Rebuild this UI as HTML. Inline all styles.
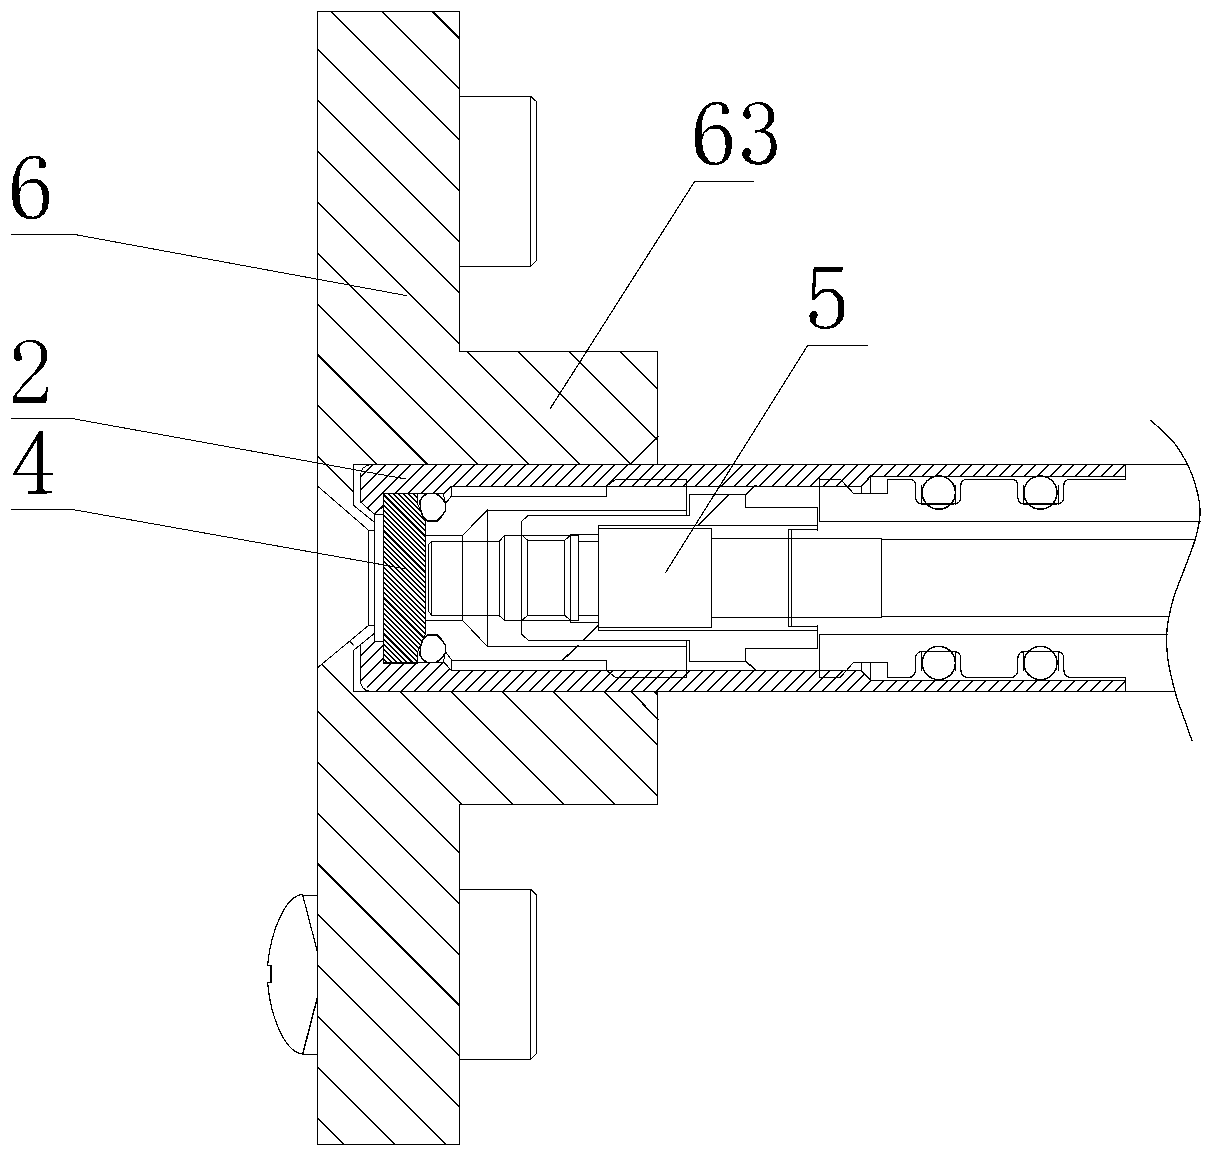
<!DOCTYPE html><html><head><meta charset="utf-8"><style>html,body{margin:0;padding:0;background:#fff;overflow:hidden}svg{display:block}</style></head><body><svg width="1215" height="1158" viewBox="0 0 1215 1158"><defs><clipPath id="cp"><path d="M317.5,11.5 L459.7,11.5 L459.7,351.3 L657.9,351.3 L657.9,464.4 L353.5,464.4 L353.5,516.5 L317.5,486.0Z M317.5,667.8 L353.5,638.7 L353.5,691.3 L657.9,691.3 L657.9,804.1 L459.7,804.1 L459.7,1144.5 L317.5,1144.5Z"/></clipPath><clipPath id="cw"><path d="M361.0,474.0 L370.9,464.4 L1125.4,464.4 L1125.4,476.2 L870.6,476.2 L861.3,486.3 L451.3,486.3 L443.9,493.5 L383.1,493.5 L383.1,506.3 L374.8,514.2 L360.6,501.9Z M361.0,681.6 L370.9,691.2 L1125.4,691.2 L1125.4,680.5 L870.6,680.5 L861.3,670.5 L451.3,670.5 L443.9,662.1 L383.1,662.1 L383.1,641.5 L374.8,641.5 L374.8,632.6 L360.5,644.2 L360.5,680.0Z"/></clipPath><clipPath id="cs"><path d="M383.6,493.6 L417.8,493.6 L417.8,504.4 L425.6,521.5 L425.6,634.1 L417.8,651.2 L417.8,663.4 L383.6,663.4Z"/></clipPath></defs><rect width="1215" height="1158" fill="#fff"/><g fill="none" stroke="#000" stroke-width="1" stroke-linecap="square" shape-rendering="crispEdges"><g clip-path="url(#cp)" stroke-width="1.5"><line x1="471.9" y1="0" x2="1631.9" y2="1160"/><line x1="421.0" y1="0" x2="1581.0" y2="1160"/><line x1="370.1" y1="0" x2="1530.1" y2="1160"/><line x1="319.2" y1="0" x2="1479.2" y2="1160"/><line x1="268.3" y1="0" x2="1428.3" y2="1160"/><line x1="217.4" y1="0" x2="1377.4" y2="1160"/><line x1="166.6" y1="0" x2="1326.6" y2="1160"/><line x1="115.7" y1="0" x2="1275.7" y2="1160"/><line x1="64.8" y1="0" x2="1224.8" y2="1160"/><line x1="13.9" y1="0" x2="1173.9" y2="1160"/><line x1="-37.0" y1="0" x2="1123.0" y2="1160"/><line x1="-87.9" y1="0" x2="1072.1" y2="1160"/><line x1="-138.8" y1="0" x2="1021.2" y2="1160"/><line x1="-189.7" y1="0" x2="970.3" y2="1160"/><line x1="-240.6" y1="0" x2="919.4" y2="1160"/><line x1="-291.5" y1="0" x2="868.5" y2="1160"/><line x1="-342.4" y1="0" x2="817.6" y2="1160"/><line x1="-393.3" y1="0" x2="766.7" y2="1160"/><line x1="-444.2" y1="0" x2="715.8" y2="1160"/><line x1="-495.1" y1="0" x2="664.9" y2="1160"/><line x1="-546.0" y1="0" x2="614.0" y2="1160"/><line x1="-596.9" y1="0" x2="563.1" y2="1160"/><line x1="-647.8" y1="0" x2="512.2" y2="1160"/><line x1="-698.7" y1="0" x2="461.3" y2="1160"/><line x1="-749.6" y1="0" x2="410.4" y2="1160"/><line x1="-800.5" y1="0" x2="359.5" y2="1160"/><line x1="-851.4" y1="0" x2="308.6" y2="1160"/></g>
<g clip-path="url(#cw)" stroke-width="1.5"><line x1="1366.6" y1="440" x2="1086.6" y2="720"/><line x1="1353.8" y1="440" x2="1073.8" y2="720"/><line x1="1341.1" y1="440" x2="1061.1" y2="720"/><line x1="1328.3" y1="440" x2="1048.3" y2="720"/><line x1="1315.6" y1="440" x2="1035.6" y2="720"/><line x1="1302.8" y1="440" x2="1022.8" y2="720"/><line x1="1290.1" y1="440" x2="1010.1" y2="720"/><line x1="1277.3" y1="440" x2="997.3" y2="720"/><line x1="1264.6" y1="440" x2="984.6" y2="720"/><line x1="1251.8" y1="440" x2="971.8" y2="720"/><line x1="1239.1" y1="440" x2="959.1" y2="720"/><line x1="1226.3" y1="440" x2="946.3" y2="720"/><line x1="1213.6" y1="440" x2="933.6" y2="720"/><line x1="1200.8" y1="440" x2="920.8" y2="720"/><line x1="1188.1" y1="440" x2="908.1" y2="720"/><line x1="1175.3" y1="440" x2="895.3" y2="720"/><line x1="1162.6" y1="440" x2="882.6" y2="720"/><line x1="1149.8" y1="440" x2="869.8" y2="720"/><line x1="1137.1" y1="440" x2="857.1" y2="720"/><line x1="1124.3" y1="440" x2="844.3" y2="720"/><line x1="1111.6" y1="440" x2="831.6" y2="720"/><line x1="1098.8" y1="440" x2="818.8" y2="720"/><line x1="1086.1" y1="440" x2="806.1" y2="720"/><line x1="1073.3" y1="440" x2="793.3" y2="720"/><line x1="1060.6" y1="440" x2="780.6" y2="720"/><line x1="1047.8" y1="440" x2="767.8" y2="720"/><line x1="1035.1" y1="440" x2="755.1" y2="720"/><line x1="1022.3" y1="440" x2="742.3" y2="720"/><line x1="1009.6" y1="440" x2="729.6" y2="720"/><line x1="996.8" y1="440" x2="716.8" y2="720"/><line x1="984.1" y1="440" x2="704.1" y2="720"/><line x1="971.3" y1="440" x2="691.3" y2="720"/><line x1="958.6" y1="440" x2="678.6" y2="720"/><line x1="945.8" y1="440" x2="665.8" y2="720"/><line x1="933.1" y1="440" x2="653.1" y2="720"/><line x1="920.3" y1="440" x2="640.3" y2="720"/><line x1="907.6" y1="440" x2="627.6" y2="720"/><line x1="894.8" y1="440" x2="614.8" y2="720"/><line x1="882.1" y1="440" x2="602.1" y2="720"/><line x1="869.3" y1="440" x2="589.3" y2="720"/><line x1="856.6" y1="440" x2="576.6" y2="720"/><line x1="843.8" y1="440" x2="563.8" y2="720"/><line x1="831.1" y1="440" x2="551.1" y2="720"/><line x1="818.3" y1="440" x2="538.3" y2="720"/><line x1="805.6" y1="440" x2="525.6" y2="720"/><line x1="792.8" y1="440" x2="512.8" y2="720"/><line x1="780.1" y1="440" x2="500.1" y2="720"/><line x1="767.3" y1="440" x2="487.3" y2="720"/><line x1="754.6" y1="440" x2="474.6" y2="720"/><line x1="741.8" y1="440" x2="461.8" y2="720"/><line x1="729.1" y1="440" x2="449.1" y2="720"/><line x1="716.3" y1="440" x2="436.3" y2="720"/><line x1="703.6" y1="440" x2="423.6" y2="720"/><line x1="690.8" y1="440" x2="410.8" y2="720"/><line x1="678.1" y1="440" x2="398.1" y2="720"/><line x1="665.3" y1="440" x2="385.3" y2="720"/><line x1="652.6" y1="440" x2="372.6" y2="720"/><line x1="639.8" y1="440" x2="359.8" y2="720"/><line x1="627.1" y1="440" x2="347.1" y2="720"/><line x1="614.3" y1="440" x2="334.3" y2="720"/><line x1="601.6" y1="440" x2="321.6" y2="720"/><line x1="588.8" y1="440" x2="308.8" y2="720"/><line x1="576.1" y1="440" x2="296.1" y2="720"/><line x1="563.3" y1="440" x2="283.3" y2="720"/><line x1="550.6" y1="440" x2="270.6" y2="720"/><line x1="537.8" y1="440" x2="257.8" y2="720"/><line x1="525.1" y1="440" x2="245.1" y2="720"/><line x1="512.3" y1="440" x2="232.3" y2="720"/><line x1="499.6" y1="440" x2="219.6" y2="720"/><line x1="486.8" y1="440" x2="206.8" y2="720"/><line x1="474.1" y1="440" x2="194.1" y2="720"/><line x1="461.3" y1="440" x2="181.3" y2="720"/><line x1="448.6" y1="440" x2="168.6" y2="720"/><line x1="435.8" y1="440" x2="155.8" y2="720"/><line x1="423.1" y1="440" x2="143.1" y2="720"/><line x1="410.3" y1="440" x2="130.3" y2="720"/><line x1="397.6" y1="440" x2="117.6" y2="720"/><line x1="384.8" y1="440" x2="104.8" y2="720"/><line x1="372.1" y1="440" x2="92.1" y2="720"/></g>
<g clip-path="url(#cs)" stroke-width="1.5"><line x1="518.4" y1="480" x2="718.4" y2="680"/><line x1="513.2" y1="480" x2="713.2" y2="680"/><line x1="508.1" y1="480" x2="708.1" y2="680"/><line x1="502.9" y1="480" x2="703.0" y2="680"/><line x1="497.8" y1="480" x2="697.8" y2="680"/><line x1="492.6" y1="480" x2="692.6" y2="680"/><line x1="487.5" y1="480" x2="687.5" y2="680"/><line x1="482.4" y1="480" x2="682.4" y2="680"/><line x1="477.2" y1="480" x2="677.2" y2="680"/><line x1="472.1" y1="480" x2="672.0" y2="680"/><line x1="466.9" y1="480" x2="666.9" y2="680"/><line x1="461.8" y1="480" x2="661.8" y2="680"/><line x1="456.6" y1="480" x2="656.6" y2="680"/><line x1="451.4" y1="480" x2="651.5" y2="680"/><line x1="446.3" y1="480" x2="646.3" y2="680"/><line x1="441.1" y1="480" x2="641.1" y2="680"/><line x1="436.0" y1="480" x2="636.0" y2="680"/><line x1="430.9" y1="480" x2="630.9" y2="680"/><line x1="425.7" y1="480" x2="625.7" y2="680"/><line x1="420.6" y1="480" x2="620.5" y2="680"/><line x1="415.4" y1="480" x2="615.4" y2="680"/><line x1="410.2" y1="480" x2="610.2" y2="680"/><line x1="405.1" y1="480" x2="605.1" y2="680"/><line x1="399.9" y1="480" x2="600.0" y2="680"/><line x1="394.8" y1="480" x2="594.8" y2="680"/><line x1="389.6" y1="480" x2="589.6" y2="680"/><line x1="384.5" y1="480" x2="584.5" y2="680"/><line x1="379.4" y1="480" x2="579.4" y2="680"/><line x1="374.2" y1="480" x2="574.2" y2="680"/><line x1="369.0" y1="480" x2="569.0" y2="680"/><line x1="363.9" y1="480" x2="563.9" y2="680"/><line x1="358.8" y1="480" x2="558.8" y2="680"/><line x1="353.6" y1="480" x2="553.6" y2="680"/><line x1="348.4" y1="480" x2="548.5" y2="680"/><line x1="343.3" y1="480" x2="543.3" y2="680"/><line x1="338.1" y1="480" x2="538.1" y2="680"/><line x1="333.0" y1="480" x2="533.0" y2="680"/><line x1="327.9" y1="480" x2="527.9" y2="680"/><line x1="322.7" y1="480" x2="522.7" y2="680"/><line x1="317.5" y1="480" x2="517.5" y2="680"/><line x1="312.4" y1="480" x2="512.4" y2="680"/><line x1="307.2" y1="480" x2="507.2" y2="680"/><line x1="302.1" y1="480" x2="502.1" y2="680"/><line x1="296.9" y1="480" x2="496.9" y2="680"/><line x1="291.8" y1="480" x2="491.8" y2="680"/><line x1="286.6" y1="480" x2="486.6" y2="680"/><line x1="281.5" y1="480" x2="481.5" y2="680"/><line x1="276.4" y1="480" x2="476.4" y2="680"/><line x1="271.2" y1="480" x2="471.2" y2="680"/><line x1="266.0" y1="480" x2="466.0" y2="680"/><line x1="260.9" y1="480" x2="460.9" y2="680"/><line x1="255.7" y1="480" x2="455.8" y2="680"/><line x1="250.6" y1="480" x2="450.6" y2="680"/><line x1="245.4" y1="480" x2="445.4" y2="680"/><line x1="240.3" y1="480" x2="440.3" y2="680"/><line x1="235.2" y1="480" x2="435.1" y2="680"/><line x1="230.0" y1="480" x2="430.0" y2="680"/><line x1="224.8" y1="480" x2="424.9" y2="680"/><line x1="219.7" y1="480" x2="419.7" y2="680"/><line x1="214.5" y1="480" x2="414.5" y2="680"/><line x1="209.4" y1="480" x2="409.4" y2="680"/><line x1="204.2" y1="480" x2="404.2" y2="680"/><line x1="199.1" y1="480" x2="399.1" y2="680"/><line x1="193.9" y1="480" x2="393.9" y2="680"/><line x1="188.8" y1="480" x2="388.8" y2="680"/><line x1="183.6" y1="480" x2="383.6" y2="680"/><line x1="178.5" y1="480" x2="378.5" y2="680"/><line x1="173.4" y1="480" x2="373.4" y2="680"/><line x1="168.2" y1="480" x2="368.2" y2="680"/><line x1="163.0" y1="480" x2="363.0" y2="680"/><line x1="157.9" y1="480" x2="357.9" y2="680"/><line x1="152.8" y1="480" x2="352.8" y2="680"/><line x1="147.6" y1="480" x2="347.6" y2="680"/><line x1="142.4" y1="480" x2="342.4" y2="680"/><line x1="137.3" y1="480" x2="337.3" y2="680"/><line x1="132.1" y1="480" x2="332.1" y2="680"/><line x1="127.0" y1="480" x2="327.0" y2="680"/><line x1="121.9" y1="480" x2="321.9" y2="680"/><line x1="116.7" y1="480" x2="316.7" y2="680"/><line x1="111.5" y1="480" x2="311.5" y2="680"/></g>
<polyline points="657.9,464.4 657.9,351.3 459.7,351.3 459.7,11.5 317.5,11.5 317.5,1144.5 459.7,1144.5 459.7,804.1 657.9,804.1 657.9,691.3"/>
<line x1="630.2" y1="464.4" x2="657.9" y2="436.5" stroke-width="1.5"/>
<line x1="630.9" y1="691.3" x2="657.9" y2="719.5" stroke-width="1.5"/>
<polyline points="459.7,96.4 530.9,96.4 536.4,101.6 536.4,260.7 530.9,266.2 459.7,266.2"/>
<line x1="530.9" y1="96.4" x2="530.9" y2="266.2"/>
<polyline points="459.7,889.5 530.9,889.5 536.4,894.7 536.4,1053.9 530.9,1059.4 459.7,1059.4"/>
<line x1="530.9" y1="889.5" x2="530.9" y2="1059.4"/>
<line x1="302.7" y1="895.0" x2="317.5" y2="895.0"/>
<line x1="302.7" y1="1054.1" x2="317.5" y2="1054.1"/>
<line x1="302.7" y1="895.0" x2="317.5" y2="952.2" stroke-width="1.2"/>
<line x1="317.5" y1="997.0" x2="302.7" y2="1054.1" stroke-width="1.5"/>
<path d="M302.7,894.6 C286,895 271,930 267.6,965.3 L271,965.3 L271,982.5 L267.6,982.5 C271,1020 286,1053 302.7,1053.8" fill="none" stroke-width="1.2"/>
<line x1="11.4" y1="234.0" x2="72.0" y2="234.0"/>
<line x1="72.0" y1="234.0" x2="406.0" y2="295.5"/>
<line x1="11.4" y1="418.5" x2="72.0" y2="418.5"/>
<line x1="72.0" y1="418.5" x2="406.0" y2="479.0"/>
<line x1="11.4" y1="509.4" x2="72.0" y2="509.4"/>
<line x1="72.0" y1="509.4" x2="406.0" y2="568.9"/>
<line x1="694.6" y1="181.5" x2="753.8" y2="181.5"/>
<line x1="694.6" y1="181.5" x2="550.0" y2="409.0" stroke-width="1.2"/>
<line x1="808.0" y1="345.0" x2="867.8" y2="345.0"/>
<line x1="808.0" y1="345.0" x2="665.5" y2="572.7" stroke-width="1.2"/>
<path d="M1151,420.4 C1155.0,424.3 1168.5,435.7 1175,444 C1181.5,452.3 1186.2,461.5 1190,470 C1193.8,478.5 1196.3,487.5 1198,495 C1199.7,502.5 1200.5,507.5 1200,515 C1199.5,522.5 1197.7,530.8 1195,540 C1192.3,549.2 1187.7,560.0 1184,570 C1180.3,580.0 1175.8,590.0 1173,600 C1170.2,610.0 1167.8,620.0 1167,630 C1166.2,640.0 1166.5,649.2 1168,660 C1169.5,670.8 1173.3,685.3 1176,695 C1178.7,704.7 1181.3,710.4 1184,718 C1186.7,725.6 1190.6,736.7 1191.9,740.4" fill="none" stroke-width="1.3"/>
<line x1="353.5" y1="464.4" x2="1187.0" y2="464.4"/>
<line x1="353.5" y1="691.3" x2="1174.0" y2="691.3"/>
<polyline points="353.5,464.4 353.5,505.3 374.8,522.6 374.8,633.0 353.5,650.3 353.5,691.3"/>
<polyline points="317.5,486.0 368.3,530.0 368.3,625.6 317.5,667.8"/>
<line x1="368.3" y1="530.0" x2="374.8" y2="530.0"/>
<line x1="368.3" y1="625.6" x2="374.8" y2="625.6"/>
<path d="M370.9,464.4 Q360.5,466 360.5,476 L360.5,501.9 L374.8,514.6 L383.1,514.6" fill="none"/>
<line x1="374.8" y1="514.6" x2="374.8" y2="641.5"/>
<path d="M369.2,691.3 Q360.5,690 360.5,679.4 L360.5,644.2" fill="none"/>
<line x1="374.8" y1="641.5" x2="383.1" y2="641.5"/>
<line x1="374.8" y1="633.0" x2="374.8" y2="641.5"/>
<line x1="374.8" y1="514.2" x2="383.1" y2="506.3"/>
<polygon points="383.6,493.6 417.8,493.6 417.8,504.4 425.6,521.5 425.6,634.1 417.8,651.2 417.8,663.4 383.6,663.4"/>
<polygon points="427.3,493.6 436.1,493.6 441.5,497.5 445.4,503 445.4,510.8 441.5,516.5 437.1,520.9 427.3,520.9 422.5,515.5 420.5,509 420,501 422.5,496.5" stroke-width="1.5"/>
<polygon points="427.3,662.4 436.1,662.4 441.5,658.5 445.4,653 445.4,645.2 441.5,639.5 437.1,635.1 427.3,635.1 422.5,640.5 420.5,647 420,655 422.5,659.5" stroke-width="1.5"/>
<polyline points="383.1,493.5 443.9,493.5 451.3,486.3 861.3,486.3"/>
<polyline points="383.1,662.1 443.9,662.1 451.3,670.5 861.3,670.5"/>
<polyline points="451.3,496.2 606.6,496.2 606.6,486.3"/>
<polyline points="451.3,660.5 606.6,660.5 606.6,670.5"/>
<line x1="451.3" y1="486.3" x2="451.3" y2="496.2"/>
<line x1="451.3" y1="670.5" x2="451.3" y2="660.5"/>
<line x1="451.6" y1="495.8" x2="445.6" y2="503.5"/>
<line x1="451.6" y1="659.8" x2="445.6" y2="652.1"/>
<line x1="443.3" y1="493.6" x2="445.4" y2="503.0"/>
<line x1="443.3" y1="662.0" x2="445.4" y2="652.6"/>
<polyline points="606.6,486.3 615.6,479.4 686.4,479.4 686.4,515.4"/>
<polyline points="606.6,670.5 615.6,677.5 686.4,677.5 686.4,640.2"/>
<line x1="487.4" y1="510.2" x2="686.4" y2="510.2"/>
<line x1="487.4" y1="646.5" x2="686.4" y2="646.5"/>
<polyline points="521.5,577.8 521.5,521.4 528.1,515.6 689.7,515.6 689.7,494.5 745.7,494.5 745.7,507.3 817.0,507.3 817.0,530.2"/>
<polyline points="521.5,577.8 521.5,634.2 528.1,640.0 689.7,640.0 689.7,661.1 745.7,661.1 745.7,648.3 817.0,648.3 817.0,625.4"/>
<line x1="745.7" y1="494.5" x2="755.6" y2="485.5" stroke-width="1.5"/>
<line x1="745.7" y1="661.1" x2="755.6" y2="670.1" stroke-width="1.5"/>
<polyline points="425.7,535.4 462.4,535.4 487.4,510.2 487.4,577.8"/>
<polyline points="425.7,620.2 462.4,620.2 487.4,646.5 487.4,577.8"/>
<line x1="462.4" y1="535.4" x2="462.4" y2="577.8"/>
<line x1="462.4" y1="620.2" x2="462.4" y2="577.8"/>
<line x1="598.4" y1="525.5" x2="817.0" y2="525.5"/>
<line x1="598.4" y1="630.1" x2="817.0" y2="630.1"/>
<polyline points="819.5,478.5 819.5,521.3 1200.0,521.3"/>
<polyline points="819.5,677.1 819.5,634.3 1167.0,634.3"/>
<polyline points="819.5,479.3 840.3,479.3 853.5,493.3 887.7,493.3 887.5,479.3 908.1,479.3"/>
<polyline points="819.5,677.5 840.3,677.5 853.5,662.3 887.7,662.3 887.5,677.5 908.1,677.5"/>
<line x1="861.3" y1="486.3" x2="861.3" y2="493.3"/>
<line x1="861.3" y1="670.5" x2="861.3" y2="662.3"/>
<line x1="870.6" y1="476.2" x2="870.6" y2="493.3"/>
<line x1="870.6" y1="680.5" x2="870.6" y2="662.3"/>
<line x1="861.3" y1="486.3" x2="870.6" y2="476.2" stroke-width="1.5"/>
<line x1="861.3" y1="670.5" x2="870.6" y2="680.5" stroke-width="1.5"/>
<line x1="870.6" y1="476.2" x2="1125.4" y2="476.2"/>
<line x1="870.6" y1="680.5" x2="1125.4" y2="680.5"/>
<polyline points="1071.2,479.3 1125.4,479.3 1125.4,464.4"/>
<polyline points="1071.2,677.5 1125.4,677.5 1125.4,691.3"/>
<line x1="968.2" y1="479.3" x2="1010.3" y2="479.3"/>
<line x1="968.2" y1="677.5" x2="1010.3" y2="677.5"/>
<path d="M908.1,479.3 C913.6,479.3 915.6,481 915.6,487 L915.6,497 C915.6,502 917.6,504 922.6,504 L953.7,504 C958.7,504 960.7,502 960.7,497 L960.7,487 C960.7,481 962.7,479.3 968.2,479.3" fill="none" stroke-width="1.2"/>
<path d="M908.1,677.5 C913.6,677.5 915.6,674.5999999999999 915.6,668.5999999999999 L915.6,658.5999999999999 C915.6,653.5999999999999 917.6,651.5999999999999 922.6,651.5999999999999 L953.7,651.5999999999999 C958.7,651.5999999999999 960.7,653.5999999999999 960.7,658.5999999999999 L960.7,668.5999999999999 C960.7,674.5999999999999 962.7,677.5 968.2,677.5" fill="none" stroke-width="1.2"/>
<line x1="921.6" y1="485.0" x2="921.6" y2="504.0"/>
<line x1="921.6" y1="670.6" x2="921.6" y2="651.6"/>
<line x1="955.2" y1="485.0" x2="955.2" y2="504.0"/>
<line x1="955.2" y1="670.6" x2="955.2" y2="651.6"/>
<path d="M1010.3,479.3 C1015.8,479.3 1017.8,481 1017.8,487 L1017.8,497 C1017.8,502 1019.8,504 1024.8,504 L1056.7,504 C1061.7,504 1063.7,502 1063.7,497 L1063.7,487 C1063.7,481 1065.7,479.3 1071.2,479.3" fill="none" stroke-width="1.2"/>
<path d="M1010.3,677.5 C1015.8,677.5 1017.8,674.5999999999999 1017.8,668.5999999999999 L1017.8,658.5999999999999 C1017.8,653.5999999999999 1019.8,651.5999999999999 1024.8,651.5999999999999 L1056.7,651.5999999999999 C1061.7,651.5999999999999 1063.7,653.5999999999999 1063.7,658.5999999999999 L1063.7,668.5999999999999 C1063.7,674.5999999999999 1065.7,677.5 1071.2,677.5" fill="none" stroke-width="1.2"/>
<line x1="1023.8" y1="485.0" x2="1023.8" y2="504.0"/>
<line x1="1023.8" y1="670.6" x2="1023.8" y2="651.6"/>
<line x1="1058.2" y1="485.0" x2="1058.2" y2="504.0"/>
<line x1="1058.2" y1="670.6" x2="1058.2" y2="651.6"/>
<circle cx="938.8" cy="492.6" r="16.6" stroke-width="1.5"/>
<circle cx="938.8" cy="663.0" r="16.6" stroke-width="1.5"/>
<circle cx="1040.4" cy="492.6" r="16.6" stroke-width="1.5"/>
<circle cx="1040.4" cy="663.0" r="16.6" stroke-width="1.5"/>
<polygon points="598.4,528.2 711.7,528.2 711.7,627.7 598.4,627.7"/>
<line x1="598.4" y1="525.5" x2="598.4" y2="629.8"/>
<line x1="598.4" y1="525.5" x2="598.4" y2="528.2"/>
<line x1="598.4" y1="630.1" x2="598.4" y2="627.4"/>
<polyline points="711.7,538.7 881.5,538.7 881.5,617.2 711.7,617.2"/>
<line x1="881.5" y1="539.5" x2="1195.0" y2="539.5"/>
<line x1="881.5" y1="616.5" x2="1168.0" y2="616.5"/>
<polyline points="817.0,529.5 788.6,529.5 788.6,626.4 817.0,626.4"/>
<line x1="791.5" y1="529.5" x2="791.5" y2="626.4"/>
<polyline points="428.2,577.8 428.2,545.0 431.5,541.5 499.0,541.5 504.7,535.4 522.0,535.4 527.8,540.3 564.5,540.3 570.6,535.4"/>
<polyline points="428.2,577.8 428.2,610.6 431.5,615.5 499.0,615.5 504.7,620.2 522.0,620.2 527.8,615.3 564.5,615.3 570.6,620.2"/>
<line x1="504.7" y1="535.4" x2="578.8" y2="535.4"/>
<line x1="504.7" y1="620.5" x2="578.8" y2="620.5"/>
<polyline points="570.6,577.8 570.6,534.6 598.4,534.6"/>
<polyline points="570.6,577.8 570.6,622.5 598.4,622.5"/>
<line x1="431.5" y1="541.5" x2="431.5" y2="577.8"/>
<line x1="431.5" y1="615.5" x2="431.5" y2="577.8"/>
<line x1="499.0" y1="541.5" x2="499.0" y2="577.8"/>
<line x1="499.0" y1="615.5" x2="499.0" y2="577.8"/>
<line x1="504.7" y1="535.4" x2="504.7" y2="577.8"/>
<line x1="504.7" y1="620.2" x2="504.7" y2="577.8"/>
<line x1="527.8" y1="540.3" x2="527.8" y2="577.8"/>
<line x1="527.8" y1="615.3" x2="527.8" y2="577.8"/>
<line x1="564.5" y1="540.3" x2="564.5" y2="577.8"/>
<line x1="564.5" y1="615.3" x2="564.5" y2="577.8"/>
<line x1="578.8" y1="535.4" x2="578.8" y2="620.5"/>
<line x1="578.8" y1="541.2" x2="598.4" y2="541.2"/>
<line x1="578.8" y1="615.5" x2="598.4" y2="615.5"/>
<line x1="698.8" y1="525.0" x2="728.4" y2="495.3" stroke-width="1.5"/>
<line x1="563.1" y1="659.6" x2="578.0" y2="645.7" stroke-width="1.5"/>
<line x1="582.9" y1="640.2" x2="598.0" y2="625.4" stroke-width="1.5"/></g><g fill="#000" fill-rule="evenodd" shape-rendering="crispEdges"><path d="M721.73,113.58 L728.21,113.58 L728.90,111.42 L728.64,108.83 L726.48,104.94 L722.16,102.35 L717.84,101.74 L710.06,102.78 L704.45,106.67 L699.26,114.01 L696.23,122.66 L694.94,132.16 L694.94,143.40 L696.23,152.04 L698.83,157.22 L703.58,162.41 L709.20,164.57 L717.84,165.00 L722.16,163.71 L727.35,159.82 L730.37,154.63 L732.10,146.85 L732.10,139.08 L729.94,133.03 L724.75,126.98 L719.57,125.08 L713.52,125.25 L708.77,126.98 L705.31,130.00 L702.28,133.89 L701.85,124.38 L703.15,116.61 L706.61,109.26 L711.79,104.94 L716.98,104.33 L721.30,104.68 L721.73,107.10Z M713.52,128.70 L719.57,129.14 L723.03,132.16 L725.19,139.08 L725.62,146.85 L724.32,155.50 L721.30,161.11 L716.11,162.84 L710.06,161.55 L705.74,156.36 L702.72,148.58 L702.28,139.94 L704.45,133.03 L709.20,129.57Z"/><path d="M38.93,167.58 L45.41,167.58 L46.10,165.42 L45.84,162.83 L43.68,158.94 L39.36,156.35 L35.04,155.74 L27.26,156.78 L21.65,160.67 L16.46,168.01 L13.43,176.66 L12.14,186.16 L12.14,197.40 L13.43,206.04 L16.03,211.22 L20.78,216.41 L26.40,218.57 L35.04,219.00 L39.36,217.71 L44.55,213.82 L47.57,208.63 L49.30,200.85 L49.30,193.08 L47.14,187.03 L41.95,180.98 L36.77,179.08 L30.72,179.25 L25.97,180.98 L22.51,184.00 L19.48,187.89 L19.05,178.38 L20.35,170.61 L23.81,163.26 L28.99,158.94 L34.18,158.33 L38.50,158.68 L38.93,161.10Z M30.72,182.70 L36.77,183.14 L40.23,186.16 L42.39,193.08 L42.82,200.85 L41.52,209.50 L38.50,215.11 L33.31,216.84 L27.26,215.55 L22.94,210.36 L19.92,202.58 L19.48,193.94 L21.65,187.03 L26.40,183.57Z"/><path d="M744.63,109.26 L749.39,104.51 L755.87,102.35 L762.78,102.35 L768.40,104.51 L772.72,108.83 L774.45,114.88 L773.58,121.79 L770.13,126.54 L765.37,130.43 L772.29,133.89 L776.18,140.80 L777.04,147.72 L775.74,154.63 L772.29,159.82 L767.10,163.71 L758.46,165.00 L751.55,164.14 L745.50,160.68 L742.47,156.36 L742.04,152.90 L744.63,148.58 L748.09,147.89 L750.68,150.31 L751.11,153.77 L748.95,156.36 L751.55,159.82 L756.73,161.98 L761.05,161.55 L766.24,158.52 L770.13,152.04 L770.99,145.13 L769.26,137.35 L765.37,133.46 L760.19,132.33 L755.00,132.59 L755.00,130.00 L760.19,129.57 L764.51,126.98 L767.53,121.79 L768.40,115.74 L767.10,109.26 L762.78,105.20 L758.46,104.07 L753.27,104.68 L749.39,107.10 L749.39,110.56 L751.11,115.31 L749.82,118.33 L746.79,118.77 L743.77,117.04 L742.90,113.58Z"/><path d="M16.40,360.68 L13.98,358.61 L13.98,350.31 L15.37,347.89 L17.44,344.79 L20.55,342.71 L24.70,340.85 L27.46,340.15 L34.72,340.15 L39.21,341.33 L44.05,345.82 L46.81,349.97 L47.16,355.50 L46.47,361.72 L42.66,368.28 L33.68,376.23 L23.31,387.29 L17.09,394.89 L17.09,396.96 L40.94,396.96 L45.08,392.82 L46.47,386.94 L47.99,386.94 L46.81,400.07 L46.12,402.84 L13.29,402.84 L13.29,396.27 L15.37,393.51 L19.51,388.67 L22.97,383.83 L33.33,373.47 L38.17,366.55 L40.94,361.72 L40.94,349.97 L39.55,346.51 L36.10,343.40 L32.64,342.37 L25.73,342.37 L22.62,343.75 L19.86,346.86 L19.51,350.31 L21.59,355.84 L21.93,359.30 L20.20,360.68Z"/><path d="M13.29,474.79 L13.29,473.07 L15.37,469.61 L38.86,431.60 L39.21,430.91 L43.01,430.91 L43.01,472.93 L53.03,472.93 L53.03,474.79 L43.01,474.79 L43.01,488.62 L44.74,490.69 L51.99,491.04 L51.99,493.11 L43.70,493.80 L28.15,493.80 L28.15,491.04 L35.41,491.04 L36.93,489.31 L36.93,474.79Z M16.75,472.93 L36.93,440.59 L36.93,472.93Z"/><path d="M813.87,267.14 L842.99,267.14 L842.58,269.77 L841.76,271.82 L815.92,271.82 L815.92,282.89 L814.69,295.20 L820.02,290.27 L823.30,289.04 L832.74,289.04 L835.61,290.27 L842.17,296.43 L844.22,301.76 L844.22,314.89 L842.58,319.81 L839.71,323.50 L836.02,326.37 L831.92,328.42 L821.25,328.83 L814.69,326.37 L810.59,322.27 L809.36,316.53 L809.77,313.24 L812.23,311.19 L815.92,311.19 L817.97,314.47 L816.74,317.35 L815.92,318.99 L815.92,323.91 L819.61,325.55 L825.35,326.78 L831.10,325.55 L835.20,322.27 L837.66,316.53 L838.07,304.22 L837.25,299.71 L835.61,296.84 L831.92,292.74 L826.99,291.92 L821.25,293.15 L817.56,296.84 L814.69,299.71 L812.23,299.71 L812.23,287.81 L813.21,269.77Z"/></g></svg></body></html>
